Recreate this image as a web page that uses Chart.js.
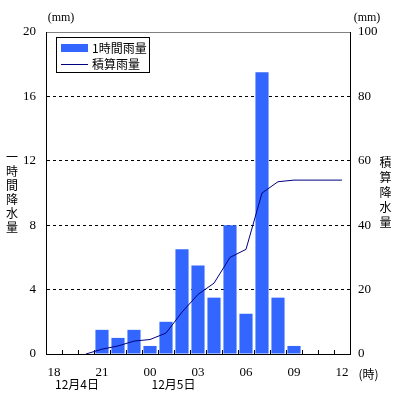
<!DOCTYPE html>
<html>
<head>
<meta charset="utf-8">
<script src="https://cdn.jsdelivr.net/npm/chart.js@4/dist/chart.umd.min.js"></script>
<style>
html,body{margin:0;padding:0;background:#fff;}
#wrap{width:399px;height:399px;}
</style>
</head>
<body>
<div id="wrap"><canvas id="c" width="399" height="399"></canvas></div>
<script>
// ---- data ----
const hours = ['18','19','20','21','22','23','00','01','02','03','04','05','06','07','08','09','10','11','12'];
const hourlyRain = [0,0,0,1.5,1.0,1.5,0.5,2.0,6.5,5.5,3.5,8.0,2.5,17.5,3.5,0.5,0,0,0];
const cumulativeRain = [null,null,0,1.5,2.5,4.0,4.5,6.5,13.0,18.5,22.0,30.0,32.5,50.0,53.5,54.0,54.0,54.0,54.0];
const leftTicks = [0,4,8,12,16,20];
const rightTicks = [0,20,40,60,80,100];
const seriesNames = ['1時間雨量','積算雨量'];
const leftTitle = '一時間降水量';
const rightTitle = '積算降水量';
const dateLabels = ['12月4日','12月5日'];

const numFont = {family:'"Liberation Serif", serif', size:13};
const cjk = '"Noto Sans CJK JP", sans-serif';

const extras = {
  id:'extras',
  afterDraw(chart){
    const ctx = chart.ctx;
    const ds = chart.data.datasets;
    ctx.save();
    // legend box
    ctx.fillStyle = '#fff';
    ctx.fillRect(57,38,92,34);
    ctx.strokeStyle = '#000';
    ctx.lineWidth = 1;
    ctx.strokeRect(56.5,37.5,93,35);
    ctx.fillStyle = ds[0].backgroundColor;
    ctx.fillRect(61,44,27,8);
    ctx.strokeStyle = ds[1].borderColor;
    ctx.beginPath(); ctx.moveTo(61,64.5); ctx.lineTo(88,64.5); ctx.stroke();
    ctx.fillStyle = '#000';
    ctx.font = '12px ' + cjk;
    ctx.textBaseline = 'middle';
    ctx.textAlign = 'left';
    ctx.fillText(ds[0].label, 92, 48.5);
    ctx.fillText(ds[1].label, 92, 64.5);
    // units
    ctx.font = '12px "Liberation Serif", serif';
    ctx.textAlign = 'center';
    ctx.fillText('(mm)', 61, 18);
    ctx.fillText('(mm)', 367, 18);
    ctx.font = '12px ' + cjk;
    ctx.fillText('(時)', 368.5, 374);
    // dates
    ctx.fillText(dateLabels[0], 77, 384);
    ctx.fillText(dateLabels[1], 173.5, 384);
    // vertical titles
    [...leftTitle].forEach((ch,i)=>ctx.fillText(ch, 12, 157 + i*14));
    [...rightTitle].forEach((ch,i)=>ctx.fillText(ch, 385.5, 162 + i*15.2));
    ctx.restore();
  }
};

new Chart(document.getElementById('c'), {
  type:'bar',
  data:{
    labels: hours,
    datasets:[
      {type:'bar', label:seriesNames[0], data:hourlyRain, backgroundColor:'#3366FF', borderWidth:0,
       barPercentage:0.82, categoryPercentage:1.0, yAxisID:'y', order:2},
      {type:'line', label:seriesNames[1], data:cumulativeRain, borderColor:'#000080', borderWidth:1,
       pointRadius:0, tension:0, fill:false, yAxisID:'y2', order:1, spanGaps:false}
    ]
  },
  options:{
    responsive:false,
    animation:false,
    layout:{padding:0},
    plugins:{legend:{display:false}, tooltip:{enabled:false}},
    scales:{
      x:{
        type:'category', position:'bottom',
        grid:{drawOnChartArea:false, drawTicks:true, tickLength:-4, color:'#000', offset:true},
        border:{color:'#000', width:1},
        ticks:{autoSkip:false, maxRotation:0, color:'#000', font:numFont, padding:15,
          callback:function(v,i){ return i%3===0 ? this.getLabelForValue(v) : ''; }},
        afterFit(s){ s.height = 45; }
      },
      xTop:{
        type:'category', position:'top',
        grid:{display:false}, ticks:{display:false},
        border:{color:'#808080', width:1},
        afterFit(s){ s.height = 32; }
      },
      y:{
        position:'left', min:0, max:20,
        afterBuildTicks(s){ s.ticks = leftTicks.map(v=>({value:v})); },
        grid:{drawTicks:false, color:(c)=> (c.tick && c.tick.value>0 && c.tick.value<20) ? '#000' : 'rgba(0,0,0,0)', lineWidth:1},
        border:{color:'#000', width:1, dash:[3,3]},
        ticks:{color:'#000', font:numFont, padding:10},
        afterFit(s){ s.width = 46; }
      },
      y2:{
        position:'right', min:0, max:100,
        afterBuildTicks(s){ s.ticks = rightTicks.map(v=>({value:v})); },
        grid:{drawOnChartArea:false, drawTicks:false},
        border:{color:'#000', width:1},
        ticks:{color:'#000', font:numFont, padding:8},
        afterFit(s){ s.width = 49; }
      }
    }
  },
  plugins:[extras]
});
</script>
</body>
</html>
